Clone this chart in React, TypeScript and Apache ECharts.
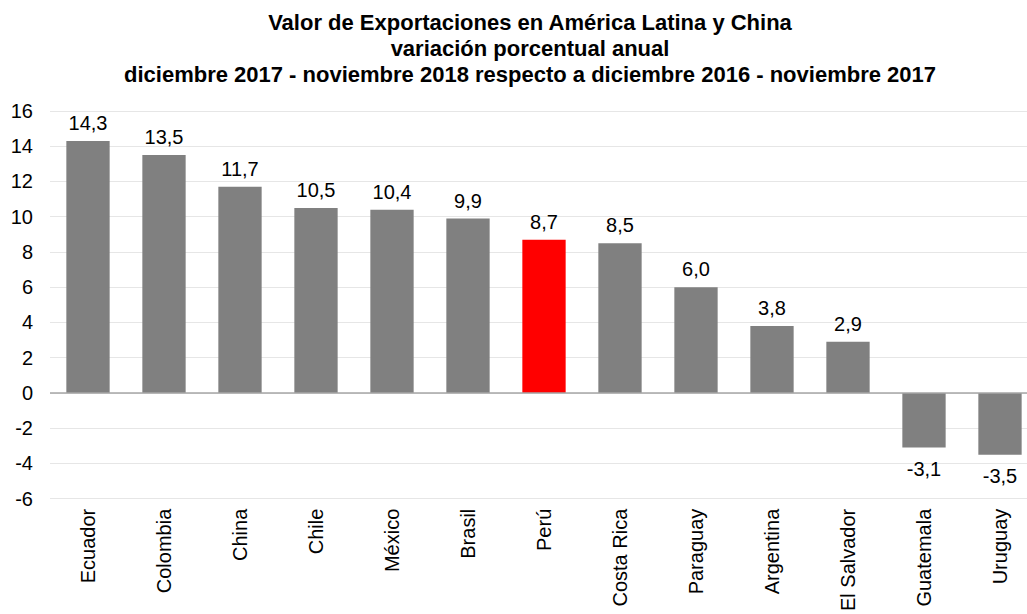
import React, { useEffect, useRef } from "react";
import * as echarts from "echarts";

const categories = ["Ecuador", "Colombia", "China", "Chile", "México", "Brasil", "Perú", "Costa Rica", "Paraguay", "Argentina", "El Salvador", "Guatemala", "Uruguay"];
const values = [14.3, 13.5, 11.7, 10.5, 10.4, 9.9, 8.7, 8.5, 6.0, 3.8, 2.9, -3.1, -3.5];
const highlight = "Perú";
const titleLines = [
  "Valor de Exportaciones en América Latina y China",
  "variación porcentual anual",
  "diciembre 2017 - noviembre 2018 respecto a diciembre 2016 - noviembre 2017",
];

export default function App() {
  const ref = useRef<HTMLDivElement>(null);
  useEffect(() => {
    const chart = echarts.init(ref.current!, null, { renderer: "svg" });
    const font = "Arial, 'Liberation Sans', sans-serif";
    chart.setOption({
      animation: false,
      textStyle: { fontFamily: font },
      title: {
        text: titleLines.join("\n"),
        left: 525,
        textAlign: "center",
        top: 4,
        textStyle: { fontFamily: font, fontSize: 22, fontWeight: "bold", color: "#000", lineHeight: 26 },
      },
      grid: { left: 50, top: 111, width: 988, height: 392, containLabel: false },
      xAxis: {
        type: "category",
        data: categories,
        position: "bottom",
        axisLine: { show: false },
        axisTick: { show: false },
        axisLabel: { rotate: 90, fontSize: 20, color: "#000", margin: 10, interval: 0, fontFamily: font },
      },
      yAxis: {
        type: "value",
        min: -6,
        max: 16,
        interval: 2,
        axisLine: { show: false },
        axisTick: { show: false },
        axisLabel: { fontSize: 20, color: "#000", margin: 17, fontFamily: font },
        splitLine: { lineStyle: { color: "#e6e6e6", width: 1 } },
      },
      series: [
        {
          type: "bar",
          barWidth: "57%",
          data: values.map((v, i) => ({
            value: v,
            itemStyle: { color: categories[i] === highlight ? "#FF0000" : "#808080" },
            label: { position: v < 0 ? "bottom" : "top", distance: v < 0 ? 11 : 8 },
          })),
          label: {
            show: true,
            fontSize: 20,
            color: "#000",
            fontFamily: font,
            formatter: (p: any) => p.value.toFixed(1).replace(".", ","),
          },
          markLine: {
            silent: true,
            symbol: "none",
            label: { show: false },
            lineStyle: { color: "#a6a6a6", type: "solid", width: 1.5 },
            data: [{ yAxis: 0 }],
          },
        },
      ],
    });
    return () => chart.dispose();
  }, []);
  return (
    <div style={{ position: "absolute", left: 0, top: 0, width: 1027, height: 614, overflow: "hidden", background: "#fff" }}>
      <div ref={ref} style={{ width: 1060, height: 614 }} />
    </div>
  );
}
